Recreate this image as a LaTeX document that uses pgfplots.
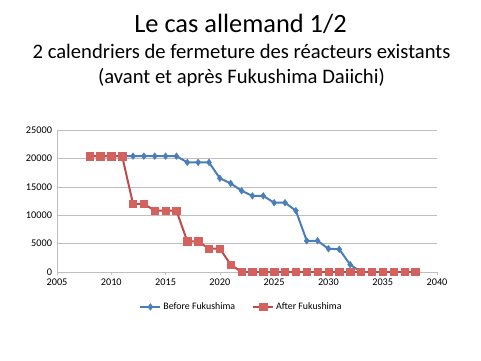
\documentclass[border=0pt]{standalone}
\usepackage{pgfplots}
\pgfplotsset{compat=1.18}
\usepackage{fontspec}
\setmainfont{Carlito}
\definecolor{sblue}{HTML}{4A7EBB}
\definecolor{sred}{HTML}{BE4B48}
\definecolor{sredm}{HTML}{D3625E}
\definecolor{gridg}{HTML}{BFBFBF}
\begin{document}
\begin{tikzpicture}[x=1bp,y=1bp]
\path (0,0) rectangle (481,360);
\node[font=\fontsize{26.5}{30}\selectfont] at (240.5,336) {Le cas allemand 1/2};
\node[font=\fontsize{20.7}{24}\selectfont] at (241.5,309) {2 calendriers de fermeture des réacteurs existants};
\node[font=\fontsize{20.7}{24}\selectfont] at (241.5,282) {(avant et après Fukushima Daiichi)};
\begin{axis}[
  at={(57bp,88bp)}, anchor=south west,
  scale only axis, width=380bp, height=142bp,
  xmin=2005, xmax=2040, ymin=0, ymax=25000,
  xtick={2005,2010,...,2040}, ytick={0,5000,...,25000},
  axis lines=left, axis line style={gridg,-},
  ymajorgrids, grid style={gridg,line width=0.6pt},
  tick style={gridg}, ytick style={draw=none},
  xtick align=outside, major tick length=3bp,
  tick label style={font=\fontsize{10.3}{12}\selectfont, text=black},
  /pgf/number format/assume math mode=true,
  /pgf/number format/1000 sep={},
  scaled y ticks=false,
  legend style={at={(0.4855,-0.246)}, anchor=center, draw=none, fill=none,
    font=\fontsize{9.9}{12}\selectfont, /tikz/every even column/.append style={column sep=15bp},
    /tikz/every odd column/.append style={column sep=0bp}, inner xsep=0pt},
  legend columns=2,
  legend image code/.code={\draw[#1,mark=none] (0bp,0bp) -- (20bp,0bp); \draw[#1,only marks] plot coordinates {(10bp,0bp)};},
]
\addplot[sblue, line width=2pt, mark=diamond*, mark size=3.3pt, mark options={fill=sblue, draw=sblue, line width=0.5pt}] coordinates {
(2008,20400)(2009,20400)(2010,20400)(2011,20400)(2012,20400)(2013,20400)(2014,20400)(2015,20400)(2016,20400)
(2017,19300)(2018,19300)(2019,19300)(2020,16500)(2021,15600)(2022,14300)(2023,13400)(2024,13400)
(2025,12200)(2026,12200)(2027,10800)(2028,5500)(2029,5500)(2030,4100)(2031,4000)(2032,1300)
(2033,0)(2034,0)(2035,0)(2036,0)(2037,0)(2038,0)};
\addlegendentry{Before Fukushima}
\addplot[sred, line width=2pt, mark=square*, mark size=3.7pt, mark options={fill=sredm, draw=sredm, line width=0.5pt}] coordinates {
(2008,20400)(2009,20400)(2010,20400)(2011,20400)(2012,12000)(2013,12000)(2014,10800)(2015,10800)(2016,10800)
(2017,5400)(2018,5400)(2019,4100)(2020,4100)(2021,1300)(2022,0)(2023,0)(2024,0)(2025,0)(2026,0)(2027,0)
(2028,0)(2029,0)(2030,0)(2031,0)(2032,0)(2033,0)(2034,0)(2035,0)(2036,0)(2037,0)(2038,0)};
\addlegendentry{After Fukushima}
\end{axis}
\end{tikzpicture}
\end{document}
